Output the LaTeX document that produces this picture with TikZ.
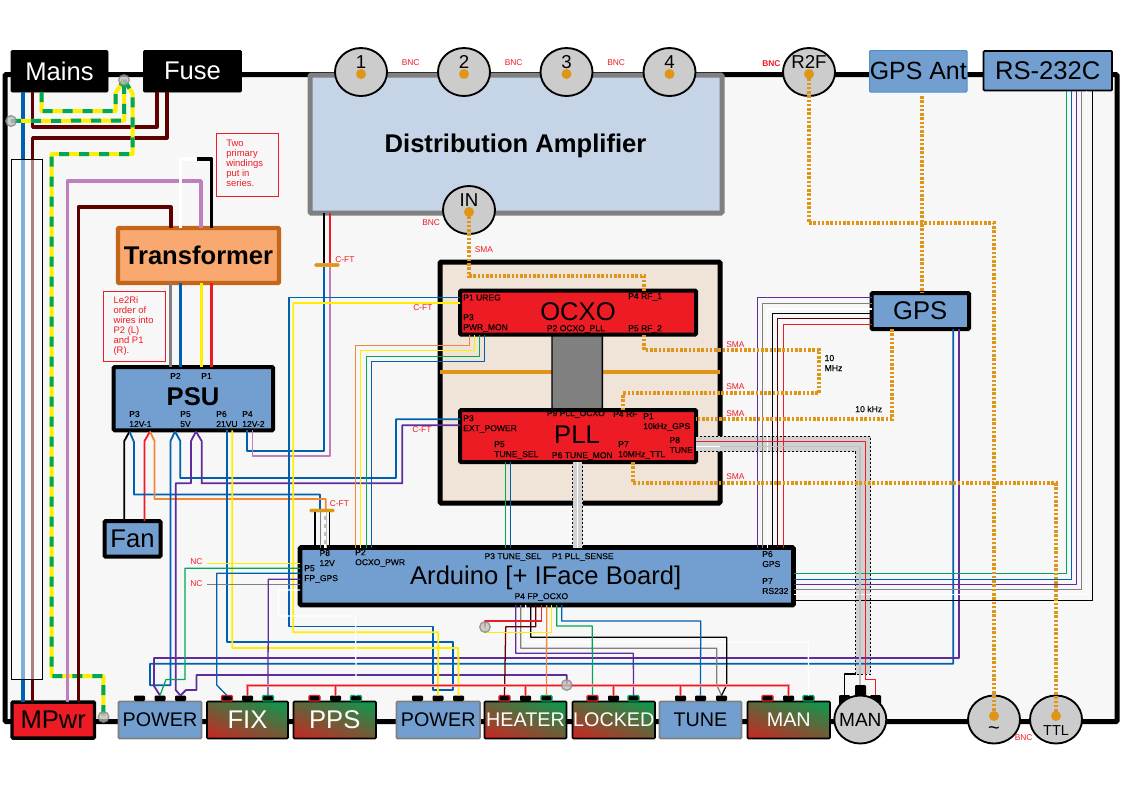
\documentclass[tikz,border=0pt]{standalone}
\usepackage{fontspec}
\usetikzlibrary{shapes.geometric}
\setmainfont{Liberation Sans}
\newfontfamily\labf[FakeBold=0.15]{Liberation Sans}
\definecolor{bluebox}{HTML}{729FCF}
\definecolor{redbox}{HTML}{ED1C24}
\definecolor{wblue}{HTML}{0060B0}
\definecolor{wpurple}{HTML}{5F2C9B}
\definecolor{wgreen}{HTML}{00A65A}
\definecolor{wbrown}{HTML}{5E0000}
\definecolor{wyellow}{HTML}{FFEE00}
\definecolor{wred}{HTML}{ED1C24}
\definecolor{worange}{HTML}{F58634}
\definecolor{wpink}{HTML}{BF7FBF}
\definecolor{wgray}{HTML}{808080}
\definecolor{coaxc}{HTML}{DF9618}
\definecolor{ledred}{HTML}{D42020}
\definecolor{ledgreen}{HTML}{00A050}
\definecolor{dafill}{HTML}{C5D4E6}
\definecolor{ovenfill}{HTML}{F0E4D9}
\definecolor{xfill}{HTML}{F9A86F}
\definecolor{xline}{HTML}{C46619}
\definecolor{chassisfill}{HTML}{F7F7F7}
\pgfdeclarehorizontalshading{ledgrad}{100bp}{color(0bp)=(ledred); color(16bp)=(ledred); color(84bp)=(ledgreen); color(100bp)=(ledgreen)}
\tikzset{
  rb/.style={rectangle,inner sep=0pt,outer sep=0pt,rounded corners=0.8pt},
  f25/.style={font=\fontsize{19.2pt}{20pt}\selectfont},
  f20/.style={font=\fontsize{14.8pt}{16pt}\selectfont},
  bbox/.style={rb,draw=black,line width=3pt,fill=bluebox,f25},
  rbox/.style={rb,draw=black,line width=3pt,fill=redbox,f25},
  gbox/.style={rb,draw=wgray,line width=1.3pt,fill=bluebox,f20},
  led/.style={rb,draw=black,line width=1.2pt,shading=ledgrad,shading angle=70,text=white,f20},
  blk/.style={rb,draw=black,fill=black,text=white,f25},
  btn/.style={rb,fill=black},
  btnr/.style={rb,fill=black,draw=wred,line width=1pt},
  btng/.style={rb,fill=black,draw=wgreen,line width=1pt},
  conn/.style={ellipse,draw=black,line width=1.4pt,fill=black!20,inner sep=0pt,outer sep=0pt,minimum width=39pt,minimum height=36pt},
  cdot/.style={circle,fill=coaxc,inner sep=0pt,outer sep=0pt,minimum size=7.5pt},
  earth/.style={circle,draw=wgray,line width=1pt,fill=black!25,opacity=.75,inner sep=0pt,outer sep=0pt,minimum size=8pt},
  notebox/.style={rb,draw=wred,line width=.75pt,rounded corners=0pt},
  plab/.style={anchor=west,inner sep=0pt,align=left,font=\labf\fontsize{6.4pt}{7.5pt}\selectfont},
  rlab/.style={anchor=west,inner sep=0pt,align=left,text=wred,font=\fontsize{6.3pt}{6.3pt}\selectfont},
  nlab/.style={anchor=west,inner sep=0pt,align=left,text=wred,font=\fontsize{7.1pt}{7.5pt}\selectfont},
  klab/.style={anchor=west,inner sep=0pt,align=left,font=\labf\fontsize{6.5pt}{7.5pt}\selectfont},
  w/.style={line width=.95pt,line join=round},
  wt/.style={line width=1.35pt,line join=round},
  wp/.style={line width=2.8pt,line join=round},
  wm/.style={line width=3pt,line join=round},
  coax/.style={draw=coaxc,line width=3pt,dash pattern=on 1.9pt off 1.3pt},
  bandedge/.style={draw=black,line width=.75pt,dash pattern=on 1.5pt off 1.5pt},
}
\newcommand{\rboxn}[7]{\node[#1,minimum width={((#5)-(#3))*0.75pt},minimum height={((#6)-(#4))*0.75pt}] (#2) at ({((#3)+(#5))/2},{((#4)+(#6))/2}) {#7};}
\newcounter{lb}
\newcommand{\lab}[4]{\stepcounter{lb}\node[#1] (txt\thelb) at (#2,#3) {#4};}
\newcommand{\btns}[7]{%
  \rboxn{#5}{#1b1}{#2-5.5}{695.5}{#2+5.5}{701}{}
  \rboxn{#6}{#1b2}{#3-5.5}{695.5}{#3+5.5}{701}{}
  \rboxn{#7}{#1b3}{#4-5.5}{695.5}{#4+5.5}{701}{}}
\newcommand{\conn}[7]{\node[conn] (#1) at (#2,#3) {};\node[font=\fontsize{#6}{#6}\selectfont,inner sep=0pt] (#1t) at (#2,#5) {#7};\coordinate (#1c) at (#2,#4);}
\begin{document}
\begin{tikzpicture}[x=0.75pt,y=-0.75pt]
\useasboundingbox (0,0) rectangle (1123,794);
% chassis
\rboxn{rb,draw=black,line width=3.75pt,fill=chassisfill}{chassis}{5}{74.5}{1117}{721.5}{}
% central enclosure
\rboxn{rb,draw=black,line width=3.75pt,fill=ovenfill}{oven}{440}{262}{720}{503}{}
\draw[draw=coaxc,line width=3pt] (oven.west |- 0,372.3) -- (oven.east |- 0,372.3);
\rboxn{rb,draw=black,line width=1.1pt,fill=wgray}{block}{552}{335}{602.3}{409}{}
% boxes
\rboxn{rb,draw=wgray,line width=3.75pt,fill=dafill}{da}{310}{75}{722}{213}{}
\node[inner sep=0pt,font=\fontsize{19.2pt}{20pt}\selectfont\bfseries] (tda) at (515.5,146) {Distribution Amplifier};
\rboxn{rb,draw=xline,line width=3.3pt,fill=xfill}{xfmr}{118}{228}{279}{283}{\fontsize{19.2pt}{20pt}\selectfont\bfseries Transformer}
\rboxn{bbox}{psu}{113.7}{367}{273}{430.3}{}
\rboxn{bbox}{fan}{104.5}{521}{160.5}{556.5}{Fan}
\rboxn{rbox}{ocxo}{460}{290.5}{696}{334.5}{}
\rboxn{rbox}{pll}{460}{410}{696}{462}{}
\rboxn{bbox}{gps}{871.5}{293}{969}{329}{GPS}
\rboxn{bbox,line width=3.5pt}{ard}{300}{547.5}{793.5}{605}{}
\rboxn{blk}{mains}{11}{50.5}{108}{92}{Mains}
\rboxn{blk}{fuse}{143.5}{50.5}{241.5}{92}{Fuse}
\rboxn{rb,draw=wblue!70,line width=.75pt,fill=bluebox,font=\fontsize{18.7pt}{20pt}\selectfont}{gpsant}{869.5}{50.5}{967}{92}{GPS Ant}
\rboxn{rb,draw=black,line width=1.4pt,fill=bluebox,f25}{rs}{983.5}{51}{1112}{90.5}{RS-232C}
\rboxn{rbox,line width=2.6pt}{mpwr}{12}{702}{94.5}{738}{MPwr}
\rboxn{gbox}{pow1}{118.5}{701.5}{201.5}{738.5}{POWER}
\rboxn{led}{fix}{207}{701.5}{288}{738.5}{\fontsize{19.2pt}{20pt}\selectfont FIX}
\rboxn{led}{pps}{293.5}{701.5}{376}{738.5}{\fontsize{19.2pt}{20pt}\selectfont PPS}
\rboxn{gbox}{pow2}{396.5}{701.5}{480}{738.5}{POWER}
\rboxn{led}{heat}{484.5}{701.5}{566.5}{738.5}{HEATER}
\rboxn{led}{lock}{572.5}{701.5}{655}{738.5}{LOCKED}
\rboxn{gbox}{tune}{659.5}{701.5}{741.5}{738.5}{TUNE}
\rboxn{led}{man}{747.5}{701.5}{830}{738.5}{MAN}
% buttons
\btns{pa}{139.5}{160}{180.5}{btn}{btn}{btn}
\btns{fx}{227}{247.5}{268}{btnr}{btn}{btng}
\btns{pp}{314.5}{335.5}{356}{btnr}{btn}{btng}
\btns{pb}{417.5}{438}{458.5}{btn}{btn}{btn}
\btns{ht}{504.5}{525.5}{546.5}{btnr}{btn}{btng}
\btns{lk}{592.5}{613.5}{633.5}{btnr}{btn}{btng}
\btns{tn}{680.5}{700.5}{721.5}{btn}{btn}{btn}
\btns{mn}{767.5}{788.5}{808.5}{btnr}{btn}{btng}
\rboxn{btn}{msw1}{839}{695}{850}{705}{}
\rboxn{btn}{msw2}{855}{685}{866}{700}{}
\rboxn{btn}{msw3}{870}{695}{881}{705}{}
% connectors
\conn{c1}{361}{72}{74}{62}{14pt}{1}
\conn{c2}{464}{72}{74}{62}{14pt}{2}
\conn{c3}{566.5}{72}{74}{62}{14pt}{3}
\conn{c4}{669.5}{72}{74}{62}{14pt}{4}
\conn{cin}{469}{210}{212}{200}{14pt}{IN}
\conn{cr}{809}{72}{74}{62}{14pt}{R2F}
\node[conn] (cman) at (860.3,719.5) {};
\node[inner sep=0pt,font=\fontsize{14.3pt}{15pt}\selectfont] (cmant) at (860.3,719.5) {MAN};
\conn{csin}{994}{719.5}{716}{731}{15pt}{\textasciitilde}
\conn{cttl}{1056}{719.5}{716}{731}{10.8pt}{TTL}
% bands
\fill[black!18] (pll.east |- 0,436) -- (870.5,436) -- (870.5,674) -- (855.5,674) -- (855.5,451.5) -- (pll.east |- 0,451.5) -- cycle;
\draw[bandedge] (pll.east |- 0,436) -- (870.5,436) -- (870.5,674) -- (855.5,674) -- (855.5,451.5) -- (pll.east |- 0,451.5);
\fill[black!18] (pll.south -| 572.5,0) rectangle (ard.north -| 582.5,0);
\draw[bandedge] (pll.south -| 572.5,0) -- (ard.north -| 572.5,0);
\draw[bandedge] (pll.south -| 582.5,0) -- (ard.north -| 582.5,0);
\draw[white,w] (pll.south -| 577.5,0) -- (ard.north -| 577.5,0);
% mains and earth
\coordinate (gnd1) at (124,80);
\coordinate (gnd2) at (11,121);
\coordinate (gnd3) at (103.5,717);
\coordinate (gnd4) at (485,627);
\coordinate (gnd5) at (566.7,685);
\draw[wbrown,line width=2.4pt,line join=round] (mains.south -| 32.6,0) -- (32.6,127) -- (157,127) -- (fuse.south -| 157,0);
\draw[wbrown,line width=2.4pt,line join=round] (fuse.south -| 167,0) -- (167,138) -- (32.6,138) -- (mpwr.north -| 32.6,0);
\draw[wblue,wm] (mains.south -| 22.5,0) -- (mpwr.north -| 22.5,0);
\foreach \i/\p in {1/{(mains.south -| 41.5,0) -- (41.5,111) -- (115.5,111) -- (115.5,93) -- (gnd1)},
  2/{(gnd2) -- (124.3,120.5) -- (gnd1)},
  3/{(gnd1) -- (132.5,93) -- (132.5,154) -- (51.7,154) -- (51.7,676) -- (103.3,676) -- (gnd3)}}{
  \draw[wyellow,line width=3pt,line join=round] \p;
  \draw[wgreen,line width=3pt,dash pattern=on 7.5pt off 7.5pt,line join=round] \p;
}
\draw[wpink,wp] (mpwr.north -| 67.5,0) -- (67.5,181) -- (201,181) -- (xfmr.north -| 201,0);
\draw[wbrown,line width=2.4pt,line join=round] (mpwr.north -| 78.5,0) -- (78.5,207) -- (171,207) -- (xfmr.north -| 171,0);
\draw[white,wp] (xfmr.north -| 180.5,0) -- (180.5,159) -- (197,159);
\draw[black,wp] (197,159) -- (211.5,159) -- (xfmr.north -| 211.5,0);
\draw[wgray,wp] (xfmr.south -| 170.5,0) -- (psu.north -| 170.5,0);
\draw[wblue,wp] (xfmr.south -| 180.5,0) -- (psu.north -| 180.5,0);
\draw[wyellow,wp] (xfmr.south -| 201.5,0) -- (psu.north -| 201.5,0);
\draw[wred,wp] (xfmr.south -| 211.5,0) -- (psu.north -| 211.5,0);
% distribution amp feed
\coordinate (cft1) at (327,265);
\node[rb,fill=coaxc,minimum width=18.5pt,minimum height=2.4pt] (cftbar1) at (cft1) {};
\draw[black,wt] (da.south -| 324.3,0) -- (cftbar1.north -| 324.3,0);
\draw[wred,wt] (da.south -| 330,0) -- (cftbar1.north -| 330,0);
\draw[wblue,wt] (psu.south -| 247,0) -- (247,451) -- (324.3,451) -- (cftbar1.south -| 324.3,0);
\draw[wpink,wt] (psu.south -| 252.5,0) -- (252.5,456) -- (330,456) -- (cftbar1.south -| 330,0);
% PSU fan etc
\coordinate (p3a) at (129.5,431.5);
\coordinate (p3b) at (150,431.5);
\coordinate (p5a) at (175,431.5);
\coordinate (p5b) at (196,431.5);
\coordinate (cft2) at (322,510.5);
\node[rb,fill=coaxc,minimum width=18.5pt,minimum height=2.4pt] (cftbar2) at (cft2) {};
\draw[black,wt] (p3a) -- (124.3,441) -- (fan.north -| 124.3,0);
\draw[wred,wt] (p3b) -- (144.5,441) -- (fan.north -| 144.5,0);
\draw[wblue,wt] (p3a) -- (134,442) -- (134,494.5) -- (320,494.5) -- (cftbar2.north -| 320,0);
\draw[worange,wt] (p3b) -- (154.5,441) -- (154.5,499) -- (325.7,499) -- (cftbar2.north -| 325.7,0);
\draw[black,w] (cftbar2.south -| 315,0) -- (ard.north -| 315,0);
\draw[black,w] (cftbar2.south -| 329.5,0) -- (ard.north -| 329.5,0);
\draw[wgray,w] (cftbar2.south -| 320.3,0) -- (ard.north -| 320.3,0);
\draw[black!25,line width=2.2pt] (cftbar2.south -| 325.2,0) -- (ard.north -| 325.2,0);
\draw[white,line width=1.1pt,dash pattern=on 3pt off 3pt] (cftbar2.south -| 325.2,0) -- (ard.north -| 325.2,0);
% long power wires
\draw[wblue,wt] (p5a) -- (180.3,441) -- (180.3,478) -- (396,478) -- (396,419.3) -- (pll.west |- 0,419.3);
\draw[wpurple,wt] (p5b) -- (201.7,441) -- (201.7,483.3) -- (402.3,483.3) -- (402.3,425.3) -- (pll.west |- 0,425.3);
\draw[wblue,wt] (gps.south -| 953.3,0) -- (953.3,663.7) -- (150,663.7) -- (150,685.3) -- (170.5,685.3) -- (170.5,441) -- (p5a);
\draw[wpurple,wt] (gps.south -| 959,0) -- (959,658) -- (154,658) -- (154,686) -- (pab2.north);
\draw[wpurple,wt] (p5b) -- (191,441) -- (191,483.3) -- (175.7,483.3) -- (175.7,690) -- (pab3.north);
\draw[wpurple,wt] (pab3.north) -- (186,690) -- (196.5,690) -- (196.5,675) -- (566.7,675) -- (gnd5);
\draw[wblue,wt] (psu.south -| 227.3,0) -- (227.3,642) -- (453.3,642) -- (453.3,690) -- (433.3,690) -- (433.3,626.5) -- (289,626.5) -- (289,297.5) -- (ocxo.west |- 0,297.5);
\draw[wyellow,wt] (psu.south -| 232.3,0) -- (232.3,648) -- (458.3,648) -- (pbb3.north);
\draw[wyellow,wt] (ocxo.west |- 0,303) -- (293.3,303) -- (293.3,632.3) -- (438.3,632.3) -- (pbb2.north);
% OCXO aux
\draw[worange,w] (ocxo.south -| 469.3,0) -- (469.3,345.7) -- (355.7,345.7) -- (ard.north -| 355.7,0);
\draw[wyellow,w] (ocxo.south -| 474.3,0) -- (474.3,350.7) -- (360.7,350.7) -- (ard.north -| 360.7,0);
\draw[wgreen,w] (ocxo.south -| 479.3,0) -- (479.3,356.3) -- (366.7,356.3) -- (ard.north -| 366.7,0);
\draw[wblue,w] (ocxo.south -| 484.3,0) -- (484.3,361.5) -- (371.7,361.5) -- (ard.north -| 371.7,0);
\draw[wgreen,w] (pll.south -| 505.7,0) -- (ard.north -| 505.7,0);
\draw[wblue,w] (pll.south -| 510.7,0) -- (ard.north -| 510.7,0);
% Arduino left side
\coordinate (nc1) at (207,563.3);
\coordinate (nc2) at (207,584.3);
\draw[wyellow,w] (nc1) -- (ard.west |- 0,563.3);
\draw[wgray,w] (nc2) -- (ard.west |- 0,584.3);
\draw[wgreen,w] (ard.west |- 0,568.3) -- (185,568.3) -- (185,679.5) -- (166,679.5) -- (pab2.north);
\draw[wblue,w] (ard.west |- 0,573.3) -- (216.7,573.3) -- (216.7,685) -- (fxb1.north);
\draw[wpurple,w] (ard.west |- 0,579.3) -- (268.3,579.3) -- (fxb3.north);
\draw[white,w] (ard.west |- 0,590) -- (278.5,590) -- (278.5,616) -- (355.7,616) -- (ppb3.north);
% Arduino bottom
\draw[wpurple,w] (ard.south -| 515.7,0) -- (515.7,653.3) -- (633.3,653.3) -- (lkb3.north);
\draw[wgray,w] (ard.south -| 520.7,0) -- (520.7,648.3) -- (716.7,648.3) -- (716.7,685) -- (tnb3.north);
\draw[white,w] (ard.south -| 525.7,0) -- (525.7,642) -- (808.3,642) -- (mnb3.north);
\draw[black,w] (ard.south -| 530.7,0) -- (530.7,637.3) -- (726.7,637.3) -- (726.7,685) -- (tnb3.north);
\draw[wbrown,w] (ard.south -| 535.7,0) -- (535.7,626.7) -- (505.7,626.7) -- (htb1.north);
\draw[wred,w] (ard.south -| 541.7,0) -- (541.7,621) -- (485,621) -- (gnd4);
\draw[worange,w] (ard.south -| 546.7,0) -- (htb3.north);
\draw[wyellow,w] (ard.south -| 551.7,0) -- (551.7,632.3) -- (485,632.3) -- (gnd4);
\draw[wgreen,w] (ard.south -| 556.7,0) -- (556.7,626) -- (592.3,626) -- (lkb1.north);
\draw[wblue,w] (ard.south -| 561.7,0) -- (561.7,621) -- (700.7,621) -- (tnb2.north);
% LED bus
\foreach \c/\wd in {wred!45/2.3pt,wred/1.2pt}{
  \draw[\c,line width=\wd] (fxb2.north) -- (247.5,685.3) -- (788.5,685.3) -- (mnb2.north);
  \draw[\c,line width=\wd] (335.5,685.3) -- (ppb2.north);
  \draw[\c,line width=\wd] (525.5,685.3) -- (htb2.north);
  \draw[\c,line width=\wd] (613.5,685.3) -- (lkb2.north);
  \draw[\c,line width=\wd] (680.5,685.3) -- (tnb1.north);
}
% RS232
\draw[wgreen,w] (ard.east |- 0,573.3) -- (1066.7,573.3) -- (rs.south -| 1066.7,0);
\draw[wblue,w] (ard.east |- 0,579.3) -- (1071.7,579.3) -- (rs.south -| 1071.7,0);
\draw[wpurple,w] (ard.east |- 0,584.3) -- (1076.7,584.3) -- (rs.south -| 1076.7,0);
\draw[wgray,w] (ard.east |- 0,589.3) -- (1081.7,589.3) -- (rs.south -| 1081.7,0);
\draw[white,w] (ard.east |- 0,594.3) -- (1086.7,594.3) -- (rs.south -| 1086.7,0);
\draw[black,w] (ard.east |- 0,600.3) -- (1092.3,600.3) -- (rs.south -| 1092.3,0);
% GPS bus
\draw[wpurple,w] (gps.west |- 0,297.3) -- (757.7,297.3) -- (ard.north -| 757.7,0);
\draw[wgray,w] (gps.west |- 0,303.3) -- (762.7,303.3) -- (ard.north -| 762.7,0);
\draw[white,w] (gps.west |- 0,309) -- (767.7,309) -- (ard.north -| 767.7,0);
\draw[black,w] (gps.west |- 0,313.3) -- (772.7,313.3) -- (ard.north -| 772.7,0);
\draw[wbrown,w] (gps.west |- 0,318.7) -- (777.7,318.7) -- (ard.north -| 777.7,0);
\draw[wred,w] (gps.west |- 0,324.3) -- (783.3,324.3) -- (ard.north -| 783.3,0);
% TUNE band wires
\draw[wred,w] (pll.east |- 0,441.7) -- (865.5,441.7) -- (865.5,679.3) -- (875.7,679.3) -- (msw3.north -| 875.7,0);
\draw[wgray!50,w] (pll.east |- 0,446.7) -- (860,446.7) -- (msw2.north -| 860,0);
\draw[white,w] (pll.east |- 0,446.7) -- (720,446.7);
\draw[black,w] (msw1.north -| 844.7,0) -- (844.7,674) -- (855.5,674);
% coax
\draw[coax] (cinc) -- (469,276) -- (644.3,276) -- (ocxo.north -| 644.3,0);
\draw[coax] (ocxo.south -| 644.3,0) -- (644.3,350) -- (819,350) -- (819,393.3) -- (623.3,393.3) -- (pll.north -| 623.3,0);
\draw[coax] (gps.south -| 891.7,0) -- (891.7,419.3) -- (pll.east |- 0,419.3);
\draw[coax] (pll.south -| 633.3,0) -- (633.3,483.3) -- (1056,483.3) -- (cttlc);
\draw[coax] (crc) -- (809,223.3) -- (994,223.3) -- (csinc);
\draw[coax] (gpsant.south -| 922.3,0) ++(0,4) -- (gps.north -| 922.3,0);
% translucent sleeve
\rboxn{rb,draw=black,line width=.75pt,fill=white,fill opacity=.5,rounded corners=0pt}{sleeve}{11.5}{159.5}{42.5}{679}{}
% dots
\foreach \n in {c1,c2,c3,c4,cin,cr,csin,cttl}{\node[cdot] (\n d) at (\n c) {};}
\foreach \n in {1,2,3,4,5}{\node[earth] (e\n) at (gnd\n) {};}
% cable feed-through bars on top
\node[rb,fill=coaxc,minimum width=18.5pt,minimum height=2.4pt] (cftbar1b) at (cft1) {};
\node[rb,fill=coaxc,minimum width=18.5pt,minimum height=2.4pt] (cftbar2b) at (cft2) {};
% titles
\node[inner sep=0pt,font=\fontsize{19.2pt}{20pt}\selectfont\bfseries] (tpsu) at (193,397) {PSU};
\node[inner sep=0pt,font=\fontsize{19.2pt}{20pt}\selectfont] (tocxo) at (578,312) {OCXO};
\node[inner sep=0pt,font=\fontsize{19.2pt}{20pt}\selectfont] (tpll) at (577,435) {PLL};
\node[inner sep=0pt,font=\fontsize{19.2pt}{20pt}\selectfont] (tard) at (545.7,578) {Arduino [+ IFace Board]};
% notes
\rboxn{notebox}{note1}{216.5}{133.5}{278.5}{196.5}{}
\lab{nlab}{226}{163}{Two\\primary\\windings\\put in\\series.}
\rboxn{notebox}{note2}{103.5}{291.5}{165.5}{361}{}
\lab{nlab}{113.3}{326}{Le2Ri\\order of\\wires into\\P2 (L)\\and P1\\(R).}
% PSU labels
\lab{plab}{170}{376}{P2}
\lab{plab}{201}{376}{P1}
\lab{plab}{129}{419}{P3\\12V-1}
\lab{plab}{180}{419}{P5\\5V}
\lab{plab}{216}{419}{P6\\21VU}
\lab{plab}{242}{419}{P4\\12V-2}
% OCXO labels
\lab{plab}{463}{297.5}{P1 UREG}
\lab{plab}{628}{297}{P4 RF\_1}
\lab{plab}{463}{323}{P3\\PWR\_MON}
\lab{plab}{546.7}{329}{P2 OCXO\_PLL}
\lab{plab}{628}{329}{P5 RF\_2}
% PLL labels
\lab{plab}{546.7}{414}{P9 PLL\_OCXO}
\lab{plab}{613}{414}{P4 RF}
\lab{plab}{643}{422}{P1\\10kHz\_GPS}
\lab{plab}{463}{424}{P3\\EXT\_POWER}
\lab{plab}{494}{450}{P5\\TUNE\_SEL}
\lab{plab}{551.7}{456}{P6 TUNE\_MON}
\lab{plab}{618}{450}{P7\\10MHz\_TTL}
\lab{plab}{669.3}{445}{P8\\TUNE}
% Arduino labels
\lab{plab}{319.3}{558}{P8\\12V}
\lab{plab}{355}{558}{P2\\OCXO\_PWR}
\lab{plab}{304}{574}{P5\\FP\_GPS}
\lab{plab}{484.3}{557}{P3 TUNE\_SEL}
\lab{plab}{551.7}{557}{P1 PLL\_SENSE}
\lab{plab}{514.3}{597}{P4 FP\_OCXO}
\lab{plab}{762}{559}{P6\\GPS}
\lab{plab}{762}{586}{P7\\RS232}
% red labels
\lab{rlab}{401.5}{63}{BNC}
\lab{rlab}{504.5}{63}{BNC}
\lab{rlab}{607}{63}{BNC}
\lab{rlab}{762}{63.5}{\textbf{BNC}}
\lab{rlab}{422}{223}{BNC}
\lab{rlab}{1014.5}{738}{BNC}
\lab{rlab}{474.5}{250}{SMA}
\lab{rlab}{726}{345}{SMA}
\lab{rlab}{726}{387}{SMA}
\lab{rlab}{726}{414}{SMA}
\lab{rlab}{726}{477}{SMA}
\lab{rlab}{335}{260}{C-FT}
\lab{rlab}{413}{308}{C-FT}
\lab{rlab}{412}{430}{C-FT}
\lab{rlab}{329.5}{504}{C-FT}
\lab{rlab}{190}{562}{NC}
\lab{rlab}{190}{584}{NC}
\lab{klab}{824.3}{363}{10\\MHz}
\lab{klab}{855}{409}{10 kHz}
\end{tikzpicture}
\end{document}
